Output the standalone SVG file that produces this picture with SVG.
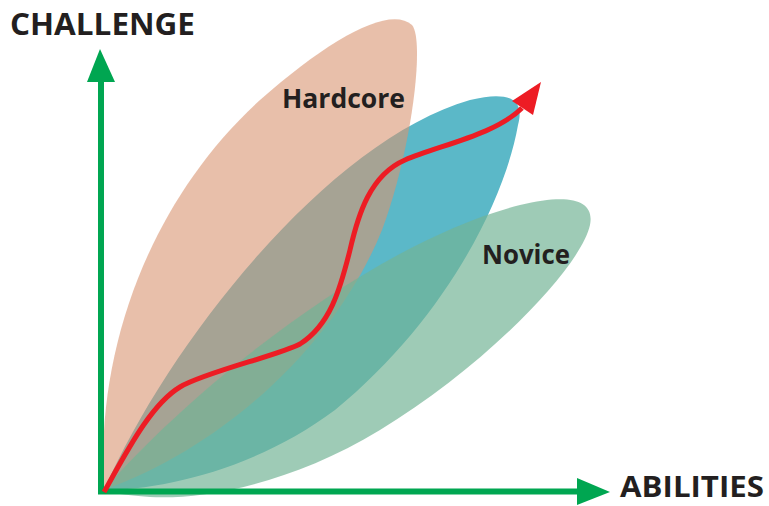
<svg xmlns="http://www.w3.org/2000/svg" width="769" height="506" viewBox="0 0 769 506">
<style>
.lbl{font-family:"Open Sans","Liberation Sans",sans-serif;font-weight:bold;fill:#231F20}
.axis{stroke:#00A651;stroke-width:6;fill:none}
</style>
<rect width="769" height="506" fill="#ffffff"/>
<g id="teal">
<path d="M104,490 C170,340 330,140 470,100 C510,90 525,100 518,125 C505,200 445,320 335,410 C255,470 160,490 104,490 Z" fill="#5BB8C8"/>
</g>
<g id="hardcore">
<path d="M104,490 C95,350 150,200 260,100 C330,38 390,5 412,25 C425,40 412,150 382,230 C342,330 240,440 104,490 Z" fill="#D99471" fill-opacity="0.6"/>
<text class="lbl" x="282" y="108" font-size="26" textLength="123" lengthAdjust="spacingAndGlyphs">Hardcore</text>
</g>
<g id="novice">
<path d="M104,490 C200,380 380,240 520,205 C570,193 595,200 590,225 C580,270 480,370 380,430 C290,485 200,500 150,497 C125,495 110,493 104,490 Z" fill="#73B495" fill-opacity="0.69"/>
<text class="lbl" x="482" y="264" font-size="26" textLength="88" lengthAdjust="spacingAndGlyphs">Novice</text>
</g>
<g id="connectors">
<line class="axis" x1="101" y1="494" x2="101" y2="78"/>
<polygon points="100,49 87,82 115,82" fill="#00A651"/>
<line class="axis" x1="98" y1="491.5" x2="580" y2="491.5"/>
<polygon points="610,492 577,478 577,505" fill="#00A651"/>
<path d="M104,492 C125,455 150,405 180,387 C205,372 280,355 300,344 C330,325 340,290 350,250 C358,215 370,175 405,160 C440,145 495,135 522,108" fill="none" stroke="#ED1C24" stroke-width="5"/>
<polygon points="541,82 512,101 533,115" fill="#ED1C24"/>
</g>
<g id="axis-labels">
<text class="lbl" x="10" y="35" font-size="30" textLength="185" lengthAdjust="spacingAndGlyphs">CHALLENGE</text>
<text class="lbl" x="620" y="497" font-size="28" textLength="144" lengthAdjust="spacingAndGlyphs">ABILITIES</text>
</g>
</svg>
